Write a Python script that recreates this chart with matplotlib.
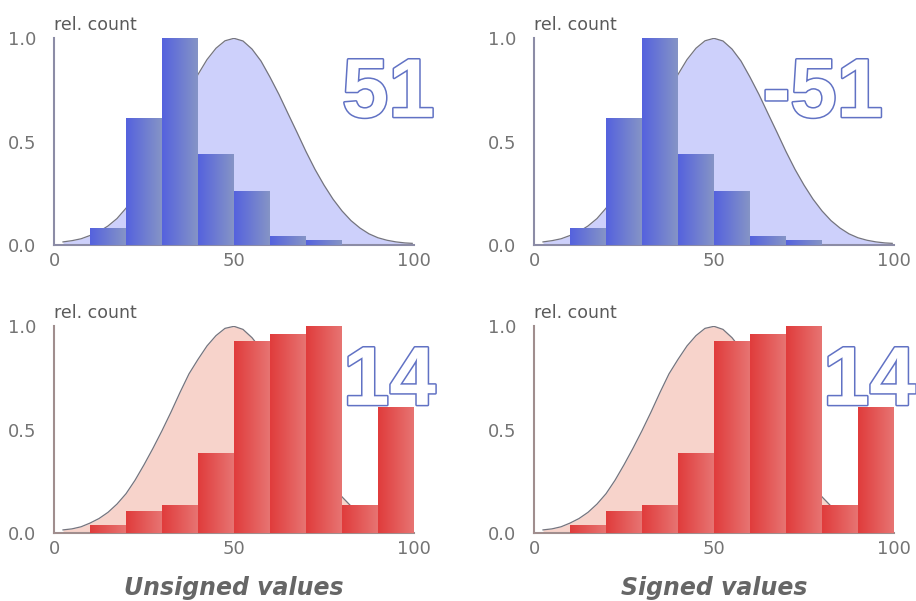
import numpy as np
import matplotlib
matplotlib.use("Agg")
import matplotlib.pyplot as plt
from matplotlib.colors import LinearSegmentedColormap
import matplotlib.patheffects as pe

# histogram bins (left edges, width 10)
bin_left = [0, 10, 20, 30, 40, 50, 60, 70, 80, 90]
blue_counts = [0, 0.08, 0.61, 1.0, 0.44, 0.26, 0.04, 0.02, 0, 0]
red_counts = [0, 0.037, 0.105, 0.132, 0.387, 0.927, 0.96, 1.0, 0.132, 0.608]

# reference curve
curve_x = [2.5, 5, 7.5, 10, 12.5, 15, 17.5, 20, 22.5, 25, 27.5, 30, 32.5, 35, 37.5,
           40, 42.5, 45, 47.5, 50, 52.5, 55, 57.5, 60, 62.5, 65, 67.5, 70, 72.5, 75,
           77.5, 80, 82.5, 85, 87.5, 90, 92.5, 95, 97.5, 99.5]
blue_curve = [0.015, 0.021, 0.03, 0.046, 0.065, 0.092, 0.128, 0.178, 0.232, 0.298,
              0.374, 0.46, 0.551, 0.645, 0.738, 0.825, 0.897, 0.952, 0.988, 1.0,
              0.987, 0.948, 0.89, 0.812, 0.728, 0.636, 0.545, 0.452, 0.366, 0.29,
              0.222, 0.165, 0.118, 0.082, 0.054, 0.035, 0.023, 0.015, 0.01, 0.008]
red_curve = [0.015, 0.02, 0.03, 0.048, 0.07, 0.1, 0.14, 0.19, 0.255, 0.33,
             0.41, 0.495, 0.585, 0.68, 0.77, 0.84, 0.905, 0.955, 0.99, 1.0,
             0.985, 0.945, 0.89, 0.82, 0.737, 0.644, 0.55, 0.458, 0.372, 0.29,
             0.225, 0.175, 0.13, 0.09, 0.06, 0.04, 0.027, 0.018, 0.012, 0.008]

panels = [
    # (pixel origin, counts, curve, fill, gradient, spine colour, number, number x, align)
    ([54, 38.3], blue_counts, blue_curve, "#cdd0fb", ("#5562de", "#8594c6"), "#8c8ca6", "51", 80.0, "left"),
    ([534, 38.3], blue_counts, blue_curve, "#cdd0fb", ("#5562de", "#8594c6"), "#8c8ca6", "-51", 97.0, "right"),
    ([54, 326.3], red_counts, red_curve, "#f7d3cb", ("#e03c3c", "#e77472"), "#a08e8e", "14", 80.3, "left"),
    ([534, 326.3], red_counts, red_curve, "#f7d3cb", ("#e03c3c", "#e77472"), "#a08e8e", "14", 80.3, "left"),
]

W, H = 916, 601
fig = plt.figure(figsize=(W / 100, H / 100), dpi=100)
tick_color = "#747474"

for (x0, ytop), counts, curve, fill, grad, spc, num, nx, nha in panels:
    ax = fig.add_axes([x0 / W, 1 - (ytop + 206.7) / H, 360 / W, 206.7 / H])
    ax.fill_between(curve_x, 0, curve, color=fill, lw=0, zorder=1)
    ax.plot(curve_x, curve, color="#74747e", lw=0.9, zorder=2)
    cmap = LinearSegmentedColormap.from_list("g", list(grad))
    g = np.linspace(0, 1, 64).reshape(1, -1)
    for left, h in zip(bin_left, counts):
        if h > 0:
            ax.imshow(g, extent=[left, left + 10, 0, h], aspect="auto",
                      cmap=cmap, zorder=3, interpolation="bilinear")
    ax.set_xlim(0, 100)
    ax.set_ylim(0, 1.0)
    ax.set_facecolor("none")
    for s in ["top", "right"]:
        ax.spines[s].set_visible(False)
    for s in ["left", "bottom"]:
        ax.spines[s].set_color(spc)
        ax.spines[s].set_linewidth(1.5)
    ax.set_xticks([0, 50, 100])
    ax.set_xticklabels(["0", "50", "100"])
    ax.set_yticks([0, 0.5, 1.0])
    ax.set_yticklabels(["0.0", "0.5", "1.0"])
    ax.tick_params(length=0, labelsize=13, labelcolor=tick_color)
    ax.tick_params(axis="y", pad=13)
    ax.tick_params(axis="x", pad=5)
    ax.text(0.0, 1.022, "rel. count", transform=ax.transAxes, fontsize=12.5,
            color="#5a5a5a", ha="left", va="bottom")
    ax.text(nx, 0.62, num, fontsize=60, fontweight="bold", family="Liberation Sans",
            color="white", ha=nha, va="baseline", zorder=5,
            path_effects=[pe.withStroke(linewidth=2.2, foreground="#6172c4")])

fig.text(234 / W, 1 - 588 / H, "Unsigned values", fontsize=17, fontweight="bold",
         style="italic", color="#666666", ha="center", va="center")
fig.text(714 / W, 1 - 588 / H, "Signed values", fontsize=17, fontweight="bold",
         style="italic", color="#666666", ha="center", va="center")

fig.savefig("out.png", dpi=100)
